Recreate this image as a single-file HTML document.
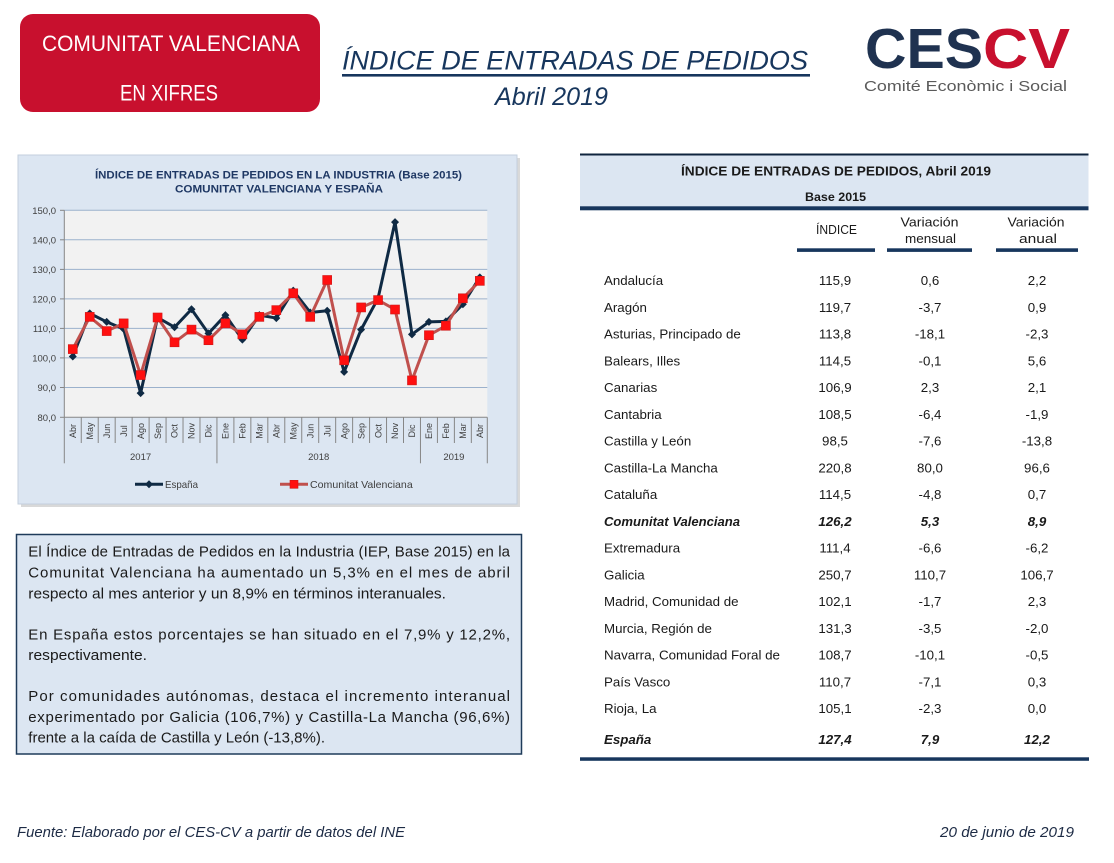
<!DOCTYPE html>
<html><head><meta charset="utf-8"><style>
html,body{margin:0;padding:0;background:#fff;}
svg{display:block;}
text{font-family:"Liberation Sans",Arial,sans-serif;}
</style></head><body>
<svg width="1114" height="863" viewBox="0 0 1114 863" xmlns="http://www.w3.org/2000/svg">
<rect x="0" y="0" width="1114" height="863" fill="#fff"/>

<!-- Header red box -->
<rect x="20" y="14" width="300" height="98" rx="13" ry="13" fill="#c8102e"/>
<text x="171" y="51" font-size="22" fill="#fff" text-anchor="middle" textLength="258" lengthAdjust="spacingAndGlyphs">COMUNITAT VALENCIANA</text>
<text x="169" y="100.5" font-size="22" fill="#fff" text-anchor="middle" textLength="98" lengthAdjust="spacingAndGlyphs">EN XIFRES</text>

<!-- Main title -->
<text x="342" y="69.3" font-size="27" font-style="italic" fill="#17365d" textLength="466" lengthAdjust="spacingAndGlyphs">ÍNDICE DE ENTRADAS DE PEDIDOS</text>
<rect x="342" y="74" width="468" height="2.6" fill="#17365d"/>
<text x="495" y="105" font-size="25" font-style="italic" fill="#17365d" textLength="113" lengthAdjust="spacingAndGlyphs">Abril 2019</text>

<!-- Logo -->
<text x="865" y="68" font-size="57" font-weight="bold" fill="#1f3250" textLength="118" lengthAdjust="spacingAndGlyphs">CES</text>
<text x="983" y="68" font-size="57" font-weight="bold" fill="#c8102e" textLength="87" lengthAdjust="spacingAndGlyphs">CV</text>
<text x="864" y="91" font-size="14.5" fill="#5a5a5a" textLength="203" lengthAdjust="spacingAndGlyphs">Comité Econòmic i Social</text>

<!-- Chart frame -->
<rect x="21" y="158" width="499" height="349" fill="#c9c9c9" opacity="0.7"/>
<rect x="18" y="155" width="499" height="349" fill="#dce6f2" stroke="#c3cfdd" stroke-width="1"/>
<text x="278.5" y="178.3" font-size="11" font-weight="bold" fill="#1f3864" text-anchor="middle" textLength="367" lengthAdjust="spacingAndGlyphs">ÍNDICE DE ENTRADAS DE PEDIDOS EN LA INDUSTRIA (Base 2015)</text>
<text x="279" y="192.7" font-size="11" font-weight="bold" fill="#1f3864" text-anchor="middle" textLength="208" lengthAdjust="spacingAndGlyphs">COMUNITAT  VALENCIANA  Y ESPAÑA</text>

<!-- Plot area -->
<rect x="64.3" y="210.3" width="423" height="207" fill="#f2f2f2"/>
<g stroke="#9bb1cc" stroke-width="1">
<line x1="64.3" y1="210.3" x2="487.3" y2="210.3"/>
<line x1="64.3" y1="239.8" x2="487.3" y2="239.8"/>
<line x1="64.3" y1="269.4" x2="487.3" y2="269.4"/>
<line x1="64.3" y1="298.9" x2="487.3" y2="298.9"/>
<line x1="64.3" y1="328.4" x2="487.3" y2="328.4"/>
<line x1="64.3" y1="357.9" x2="487.3" y2="357.9"/>
<line x1="64.3" y1="387.5" x2="487.3" y2="387.5"/>
</g>
<g stroke="#868686" stroke-width="1">
<line x1="64.3" y1="210.3" x2="64.3" y2="417.3"/>
<line x1="64.3" y1="417.3" x2="487.3" y2="417.3"/>
<line x1="60" y1="210.3" x2="64.3" y2="210.3"/>
<line x1="60" y1="239.8" x2="64.3" y2="239.8"/>
<line x1="60" y1="269.4" x2="64.3" y2="269.4"/>
<line x1="60" y1="298.9" x2="64.3" y2="298.9"/>
<line x1="60" y1="328.4" x2="64.3" y2="328.4"/>
<line x1="60" y1="357.9" x2="64.3" y2="357.9"/>
<line x1="60" y1="387.5" x2="64.3" y2="387.5"/>
<line x1="60" y1="417.3" x2="64.3" y2="417.3"/>
<!-- category separators -->
<line x1="64.3" y1="417.3" x2="64.3" y2="463.3"/>
<line x1="81.26" y1="417.3" x2="81.26" y2="443"/>
<line x1="98.22" y1="417.3" x2="98.22" y2="443"/>
<line x1="115.18" y1="417.3" x2="115.18" y2="443"/>
<line x1="132.14" y1="417.3" x2="132.14" y2="443"/>
<line x1="149.1" y1="417.3" x2="149.1" y2="443"/>
<line x1="166.06" y1="417.3" x2="166.06" y2="443"/>
<line x1="183.02" y1="417.3" x2="183.02" y2="443"/>
<line x1="199.98" y1="417.3" x2="199.98" y2="443"/>
<line x1="216.94" y1="417.3" x2="216.94" y2="463.3"/>
<line x1="233.9" y1="417.3" x2="233.9" y2="443"/>
<line x1="250.86" y1="417.3" x2="250.86" y2="443"/>
<line x1="267.82" y1="417.3" x2="267.82" y2="443"/>
<line x1="284.78" y1="417.3" x2="284.78" y2="443"/>
<line x1="301.74" y1="417.3" x2="301.74" y2="443"/>
<line x1="318.7" y1="417.3" x2="318.7" y2="443"/>
<line x1="335.66" y1="417.3" x2="335.66" y2="443"/>
<line x1="352.62" y1="417.3" x2="352.62" y2="443"/>
<line x1="369.58" y1="417.3" x2="369.58" y2="443"/>
<line x1="386.54" y1="417.3" x2="386.54" y2="443"/>
<line x1="403.5" y1="417.3" x2="403.5" y2="443"/>
<line x1="420.46" y1="417.3" x2="420.46" y2="463.3"/>
<line x1="437.42" y1="417.3" x2="437.42" y2="443"/>
<line x1="454.38" y1="417.3" x2="454.38" y2="443"/>
<line x1="471.34" y1="417.3" x2="471.34" y2="443"/>
<line x1="487.3" y1="417.3" x2="487.3" y2="463.3"/>
</g>

<!-- Y labels -->
<g font-size="9.5" fill="#404040" text-anchor="end">
<text x="56" y="213.8">150,0</text>
<text x="56" y="243.3">140,0</text>
<text x="56" y="272.9">130,0</text>
<text x="56" y="302.4">120,0</text>
<text x="56" y="331.9">110,0</text>
<text x="56" y="361.4">100,0</text>
<text x="56" y="391">90,0</text>
<text x="56" y="420.8">80,0</text>
</g>

<!-- Month labels -->
<g font-size="9" fill="#404040" text-anchor="middle">
<text transform="translate(76,431) rotate(-90)">Abr</text>
<text transform="translate(92.9,431) rotate(-90)">May</text>
<text transform="translate(109.9,431) rotate(-90)">Jun</text>
<text transform="translate(126.9,431) rotate(-90)">Jul</text>
<text transform="translate(143.8,431) rotate(-90)">Ago</text>
<text transform="translate(160.8,431) rotate(-90)">Sep</text>
<text transform="translate(177.7,431) rotate(-90)">Oct</text>
<text transform="translate(194.7,431) rotate(-90)">Nov</text>
<text transform="translate(211.7,431) rotate(-90)">Dic</text>
<text transform="translate(228.6,431) rotate(-90)">Ene</text>
<text transform="translate(245.6,431) rotate(-90)">Feb</text>
<text transform="translate(262.5,431) rotate(-90)">Mar</text>
<text transform="translate(279.5,431) rotate(-90)">Abr</text>
<text transform="translate(296.5,431) rotate(-90)">May</text>
<text transform="translate(313.4,431) rotate(-90)">Jun</text>
<text transform="translate(330.4,431) rotate(-90)">Jul</text>
<text transform="translate(347.3,431) rotate(-90)">Ago</text>
<text transform="translate(364.3,431) rotate(-90)">Sep</text>
<text transform="translate(381.3,431) rotate(-90)">Oct</text>
<text transform="translate(398.2,431) rotate(-90)">Nov</text>
<text transform="translate(415.2,431) rotate(-90)">Dic</text>
<text transform="translate(432.1,431) rotate(-90)">Ene</text>
<text transform="translate(449.1,431) rotate(-90)">Feb</text>
<text transform="translate(466.1,431) rotate(-90)">Mar</text>
<text transform="translate(483,431) rotate(-90)">Abr</text>
</g>
<g font-size="9.5" fill="#404040" text-anchor="middle">
<text x="140.6" y="460">2017</text>
<text x="318.7" y="460">2018</text>
<text x="453.9" y="460">2019</text>
</g>

<!-- España series -->
<polyline fill="none" stroke="#0f2a44" stroke-width="3" stroke-linejoin="round" points="72.78,356.47 89.74,313.35 106.70,321.92 123.66,329.01 140.62,393.09 157.58,317.49 174.54,327.23 191.50,309.22 208.46,333.43 225.42,315.13 242.38,339.64 259.34,315.13 276.30,318.08 293.26,290.62 310.22,312.47 327.18,310.70 344.14,371.82 361.10,329.60 378.06,298.29 395.02,222.11 411.98,334.32 428.94,321.92 445.90,321.33 462.86,304.20 479.82,277.33"/>
<g fill="#0f2a44">
<path d="M72.78,352.47l4,4l-4,4l-4,-4z"/>
<path d="M89.74,309.35l4,4l-4,4l-4,-4z"/>
<path d="M106.70,317.92l4,4l-4,4l-4,-4z"/>
<path d="M123.66,325.01l4,4l-4,4l-4,-4z"/>
<path d="M140.62,389.09l4,4l-4,4l-4,-4z"/>
<path d="M157.58,313.49l4,4l-4,4l-4,-4z"/>
<path d="M174.54,323.23l4,4l-4,4l-4,-4z"/>
<path d="M191.50,305.22l4,4l-4,4l-4,-4z"/>
<path d="M208.46,329.43l4,4l-4,4l-4,-4z"/>
<path d="M225.42,311.13l4,4l-4,4l-4,-4z"/>
<path d="M242.38,335.64l4,4l-4,4l-4,-4z"/>
<path d="M259.34,311.13l4,4l-4,4l-4,-4z"/>
<path d="M276.30,314.08l4,4l-4,4l-4,-4z"/>
<path d="M293.26,286.62l4,4l-4,4l-4,-4z"/>
<path d="M310.22,308.47l4,4l-4,4l-4,-4z"/>
<path d="M327.18,306.70l4,4l-4,4l-4,-4z"/>
<path d="M344.14,367.82l4,4l-4,4l-4,-4z"/>
<path d="M361.10,325.60l4,4l-4,4l-4,-4z"/>
<path d="M378.06,294.29l4,4l-4,4l-4,-4z"/>
<path d="M395.02,218.11l4,4l-4,4l-4,-4z"/>
<path d="M411.98,330.32l4,4l-4,4l-4,-4z"/>
<path d="M428.94,317.92l4,4l-4,4l-4,-4z"/>
<path d="M445.90,317.33l4,4l-4,4l-4,-4z"/>
<path d="M462.86,300.20l4,4l-4,4l-4,-4z"/>
<path d="M479.82,273.33l4,4l-4,4l-4,-4z"/>
</g>

<!-- CV series -->
<polyline fill="none" stroke="#c0504d" stroke-width="3" stroke-linejoin="round" points="72.78,349.09 89.74,316.90 106.70,331.07 123.66,323.39 140.62,375.07 157.58,317.49 174.54,342.29 191.50,329.60 208.46,340.23 225.42,323.39 242.38,334.32 259.34,316.90 276.30,310.11 293.26,293.27 310.22,316.90 327.18,279.99 344.14,360.31 361.10,307.45 378.06,300.07 395.02,309.52 411.98,380.39 428.94,335.21 445.90,325.76 462.86,298.29 479.82,280.87"/>
<g fill="#ff1010" stroke="#d01818" stroke-width="0.6">
<rect x="68.28" y="344.59" width="9" height="9"/>
<rect x="85.24" y="312.40" width="9" height="9"/>
<rect x="102.20" y="326.57" width="9" height="9"/>
<rect x="119.16" y="318.89" width="9" height="9"/>
<rect x="136.12" y="370.57" width="9" height="9"/>
<rect x="153.08" y="312.99" width="9" height="9"/>
<rect x="170.04" y="337.79" width="9" height="9"/>
<rect x="187.00" y="325.10" width="9" height="9"/>
<rect x="203.96" y="335.73" width="9" height="9"/>
<rect x="220.92" y="318.89" width="9" height="9"/>
<rect x="237.88" y="329.82" width="9" height="9"/>
<rect x="254.84" y="312.40" width="9" height="9"/>
<rect x="271.80" y="305.61" width="9" height="9"/>
<rect x="288.76" y="288.77" width="9" height="9"/>
<rect x="305.72" y="312.40" width="9" height="9"/>
<rect x="322.68" y="275.49" width="9" height="9"/>
<rect x="339.64" y="355.81" width="9" height="9"/>
<rect x="356.60" y="302.95" width="9" height="9"/>
<rect x="373.56" y="295.57" width="9" height="9"/>
<rect x="390.52" y="305.02" width="9" height="9"/>
<rect x="407.48" y="375.89" width="9" height="9"/>
<rect x="424.44" y="330.71" width="9" height="9"/>
<rect x="441.40" y="321.26" width="9" height="9"/>
<rect x="458.36" y="293.79" width="9" height="9"/>
<rect x="475.32" y="276.37" width="9" height="9"/>
</g>

<!-- Legend -->
<line x1="135" y1="484.3" x2="163" y2="484.3" stroke="#0f2a44" stroke-width="3"/>
<path d="M149,480.3l4,4l-4,4l-4,-4z" fill="#0f2a44"/>
<text x="165" y="488" font-size="10.5" fill="#404040" textLength="33" lengthAdjust="spacingAndGlyphs">España</text>
<line x1="280" y1="484.3" x2="308" y2="484.3" stroke="#c0504d" stroke-width="3"/>
<rect x="290" y="480.3" width="8" height="8" fill="#ff1010" stroke="#d01818" stroke-width="0.6"/>
<text x="310" y="488" font-size="10.5" fill="#404040" textLength="102.7" lengthAdjust="spacingAndGlyphs">Comunitat Valenciana</text>

<!-- Text box -->
<rect x="16.5" y="534.5" width="505" height="219.5" fill="#dce6f2" stroke="#1f3b5a" stroke-width="1.5"/>
<g font-size="15" fill="#1a1a1a">
<text x="28.3" y="556.7" textLength="481.7" lengthAdjust="spacing">El Índice de Entradas de Pedidos en la Industria (IEP, Base 2015) en la</text>
<text x="28.3" y="577.5" textLength="481.7" lengthAdjust="spacing">Comunitat Valenciana ha aumentado un 5,3% en el mes de abril</text>
<text x="28.3" y="598.3" textLength="417.7" lengthAdjust="spacingAndGlyphs">respecto al mes anterior y un 8,9% en términos interanuales.</text>
<text x="28.3" y="639.3" textLength="481.7" lengthAdjust="spacing">En España estos porcentajes se han situado en el 7,9% y 12,2%,</text>
<text x="28.3" y="660.1" textLength="118.7" lengthAdjust="spacingAndGlyphs">respectivamente.</text>
<text x="28.3" y="701" textLength="481.7" lengthAdjust="spacing">Por comunidades autónomas, destaca el incremento interanual</text>
<text x="28.3" y="721.8" textLength="481.7" lengthAdjust="spacing">experimentado por Galicia (106,7%) y Castilla-La Mancha (96,6%)</text>
<text x="28.3" y="742.4" textLength="296.7" lengthAdjust="spacingAndGlyphs">frente a la caída de Castilla y León (-13,8%).</text>
</g>

<!-- Table -->
<rect x="580" y="155" width="508.5" height="51.5" fill="#dce6f2"/>
<rect x="580" y="153.5" width="508.5" height="2" fill="#0f243e"/>
<text x="836" y="175.3" font-size="13" font-weight="bold" fill="#1a1a1a" text-anchor="middle" textLength="310" lengthAdjust="spacingAndGlyphs">ÍNDICE DE ENTRADAS DE PEDIDOS, Abril 2019</text>
<text x="835.5" y="201" font-size="12" font-weight="bold" fill="#1a1a1a" text-anchor="middle" textLength="61" lengthAdjust="spacingAndGlyphs">Base 2015</text>
<rect x="580" y="206.3" width="508.5" height="4" fill="#17365d"/>
<g font-size="13" fill="#1a1a1a" text-anchor="middle">
<text x="836.5" y="234" textLength="41" lengthAdjust="spacingAndGlyphs">ÍNDICE</text>
<text x="929.5" y="226.3" textLength="58" lengthAdjust="spacingAndGlyphs">Variación</text>
<text x="930.5" y="243" textLength="51" lengthAdjust="spacingAndGlyphs">mensual</text>
<text x="1036" y="226.3" textLength="57" lengthAdjust="spacingAndGlyphs">Variación</text>
<text x="1038" y="243" textLength="38" lengthAdjust="spacingAndGlyphs">anual</text>
</g>
<rect x="797" y="248.3" width="78" height="3.6" fill="#17365d"/>
<rect x="887" y="248.3" width="85" height="3.6" fill="#17365d"/>
<rect x="996" y="248.3" width="82" height="3.6" fill="#17365d"/>

<g font-size="13.3" fill="#1a1a1a">
<text x="604" y="285">Andalucía</text>
<text x="604" y="311.8">Aragón</text>
<text x="604" y="338.5">Asturias, Principado de</text>
<text x="604" y="365.3">Balears, Illes</text>
<text x="604" y="392">Canarias</text>
<text x="604" y="418.8">Cantabria</text>
<text x="604" y="445.5">Castilla y León</text>
<text x="604" y="472.3">Castilla-La Mancha</text>
<text x="604" y="499">Cataluña</text>
<text x="604" y="525.8" font-weight="bold" font-style="italic" textLength="136" lengthAdjust="spacingAndGlyphs">Comunitat Valenciana</text>
<text x="604" y="552.5">Extremadura</text>
<text x="604" y="579.3">Galicia</text>
<text x="604" y="606">Madrid, Comunidad de</text>
<text x="604" y="632.8">Murcia, Región de</text>
<text x="604" y="659.5" textLength="176" lengthAdjust="spacingAndGlyphs">Navarra, Comunidad Foral de</text>
<text x="604" y="686.3">País Vasco</text>
<text x="604" y="713">Rioja, La</text>
<text x="604" y="744" font-weight="bold" font-style="italic">España</text>
</g>
<g font-size="13.3" fill="#1a1a1a" text-anchor="middle">
<text x="835" y="285">115,9</text>
<text x="835" y="311.8">119,7</text>
<text x="835" y="338.5">113,8</text>
<text x="835" y="365.3">114,5</text>
<text x="835" y="392">106,9</text>
<text x="835" y="418.8">108,5</text>
<text x="835" y="445.5">98,5</text>
<text x="835" y="472.3">220,8</text>
<text x="835" y="499">114,5</text>
<text x="835" y="525.8" font-weight="bold" font-style="italic">126,2</text>
<text x="835" y="552.5">111,4</text>
<text x="835" y="579.3">250,7</text>
<text x="835" y="606">102,1</text>
<text x="835" y="632.8">131,3</text>
<text x="835" y="659.5">108,7</text>
<text x="835" y="686.3">110,7</text>
<text x="835" y="713">105,1</text>
<text x="835" y="744" font-weight="bold" font-style="italic">127,4</text>

<text x="930" y="285">0,6</text>
<text x="930" y="311.8">-3,7</text>
<text x="930" y="338.5">-18,1</text>
<text x="930" y="365.3">-0,1</text>
<text x="930" y="392">2,3</text>
<text x="930" y="418.8">-6,4</text>
<text x="930" y="445.5">-7,6</text>
<text x="930" y="472.3">80,0</text>
<text x="930" y="499">-4,8</text>
<text x="930" y="525.8" font-weight="bold" font-style="italic">5,3</text>
<text x="930" y="552.5">-6,6</text>
<text x="930" y="579.3">110,7</text>
<text x="930" y="606">-1,7</text>
<text x="930" y="632.8">-3,5</text>
<text x="930" y="659.5">-10,1</text>
<text x="930" y="686.3">-7,1</text>
<text x="930" y="713">-2,3</text>
<text x="930" y="744" font-weight="bold" font-style="italic">7,9</text>

<text x="1037" y="285">2,2</text>
<text x="1037" y="311.8">0,9</text>
<text x="1037" y="338.5">-2,3</text>
<text x="1037" y="365.3">5,6</text>
<text x="1037" y="392">2,1</text>
<text x="1037" y="418.8">-1,9</text>
<text x="1037" y="445.5">-13,8</text>
<text x="1037" y="472.3">96,6</text>
<text x="1037" y="499">0,7</text>
<text x="1037" y="525.8" font-weight="bold" font-style="italic">8,9</text>
<text x="1037" y="552.5">-6,2</text>
<text x="1037" y="579.3">106,7</text>
<text x="1037" y="606">2,3</text>
<text x="1037" y="632.8">-2,0</text>
<text x="1037" y="659.5">-0,5</text>
<text x="1037" y="686.3">0,3</text>
<text x="1037" y="713">0,0</text>
<text x="1037" y="744" font-weight="bold" font-style="italic">12,2</text>
</g>
<rect x="580" y="757.3" width="509" height="3.5" fill="#17365d"/>

<!-- Footer -->
<text x="17" y="837" font-size="15" font-style="italic" fill="#1d2b45" textLength="388" lengthAdjust="spacingAndGlyphs">Fuente: Elaborado por el CES-CV a partir de datos del INE</text>
<text x="940" y="837" font-size="15" font-style="italic" fill="#1d2b45" textLength="134" lengthAdjust="spacingAndGlyphs">20 de junio de 2019</text>
</svg>
</body></html>
